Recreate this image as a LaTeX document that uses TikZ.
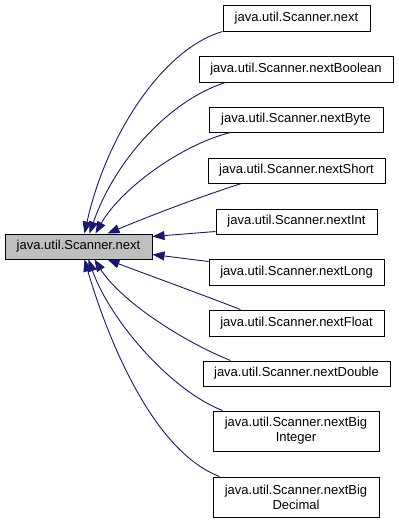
\documentclass[tikz,border=0pt]{standalone}
\usepackage{fontspec}
\setmainfont{Liberation Sans}
\usetikzlibrary{arrows.meta}
\definecolor{edgeblue}{HTML}{191970}
\definecolor{focusgray}{HTML}{BFBFBF}
\begin{document}
\begin{tikzpicture}[x=1pt,y=-1pt,
  fn/.style={draw=black,line width=1pt,fill=white,inner sep=0pt,
    font=\fontsize{13}{15}\selectfont,align=center},
  focus/.style={fn,fill=focusgray},
  caller/.style={draw=edgeblue,line width=0.9pt,
    -{Triangle[length=12pt,width=9pt]},fill=none}]
\useasboundingbox (0,0) rectangle (399,523);

% callee
\node[focus,minimum width=147pt,minimum height=25pt] (main) at (78.5,246.5) {java.util.Scanner.next};

% callers
\node[fn,minimum width=147pt,minimum height=26pt] (n1) at (296.5,18) {java.util.Scanner.next};
\node[fn,minimum width=194pt,minimum height=26pt] (n2) at (296,69) {java.util.Scanner.nextBoolean};
\node[fn,minimum width=174pt,minimum height=25pt] (n3) at (296,119.5) {java.util.Scanner.nextByte};
\node[fn,minimum width=177pt,minimum height=25pt] (n4) at (296.5,170.5) {java.util.Scanner.nextShort};
\node[fn,minimum width=161pt,minimum height=25pt] (n5) at (296.5,221.5) {java.util.Scanner.nextInt};
\node[fn,minimum width=175pt,minimum height=26pt] (n6) at (296.5,272) {java.util.Scanner.nextLong};
\node[fn,minimum width=175pt,minimum height=26pt] (n7) at (296.5,323) {java.util.Scanner.nextFloat};
\node[fn,minimum width=187pt,minimum height=25pt] (n8) at (296.5,373.5) {java.util.Scanner.nextDouble};
\node[fn,minimum width=166pt,minimum height=40pt] (n9) at (296,431) {java.util.Scanner.nextBig\\Integer};
\node[fn,minimum width=166pt,minimum height=40pt] (n10) at (296,497) {java.util.Scanner.nextBig\\Decimal};

% call edges
\draw[caller] (n1.south west) .. controls (160,50) and (105,140) .. ([xshift=80pt]main.north west);
\draw[caller] ([xshift=27pt]n2.south west) .. controls (170,100) and (115,160) .. ([xshift=85pt]main.north west);
\draw[caller] ([xshift=22pt]n3.south west) .. controls (180,145) and (120,190) .. ([xshift=91pt]main.north west);
\draw[caller] ([xshift=34pt]n4.south west) .. controls (190,200) and (140,220) .. ([xshift=103pt]main.north west);
\draw[caller] ([yshift=3pt]n5.south west) -- ([yshift=-3pt]main.north east);
\draw[caller] ([yshift=-3pt]n6.north west) -- ([yshift=5pt]main.south east);
\draw[caller] ([xshift=32pt]n7.north west) .. controls (190,290) and (140,272) .. ([xshift=103pt]main.south west);
\draw[caller] ([xshift=28pt]n8.north west) .. controls (180,340) and (120,300) .. ([xshift=90pt]main.south west);
\draw[caller] ([xshift=10pt]n9.north west) .. controls (170,390) and (110,320) .. ([xshift=84pt]main.south west);
\draw[caller] ([xshift=7pt]n10.north west) .. controls (150,450) and (105,330) .. ([xshift=80pt]main.south west);
\end{tikzpicture}
\end{document}
